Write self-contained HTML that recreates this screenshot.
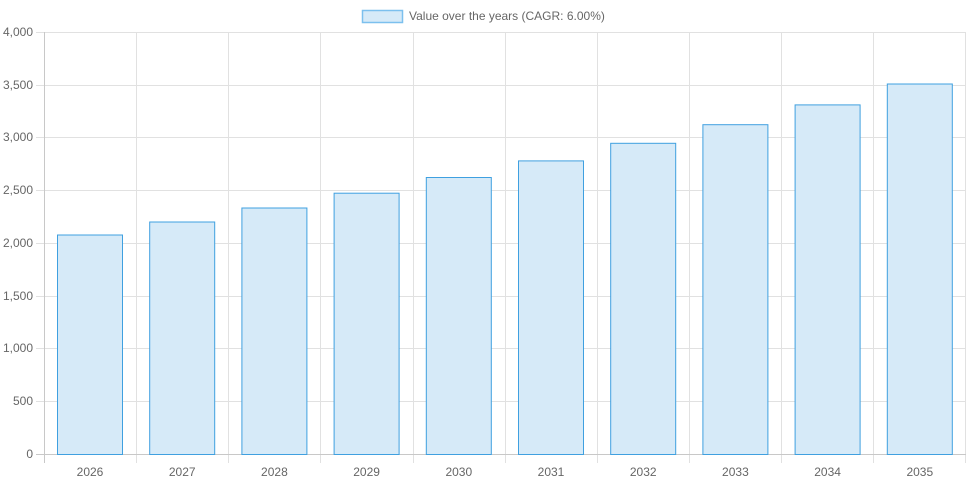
<!DOCTYPE html>
<html><head><meta charset="utf-8"><style>
html,body{margin:0;padding:0;background:#fff;}
svg{display:block;font-family:"Liberation Sans",Arial,sans-serif;}
</style></head><body>
<svg width="966" height="483" viewBox="0 0 966 483">
<g stroke="#e1e1e1" stroke-width="1" shape-rendering="crispEdges">
<line x1="36" y1="32.5" x2="966" y2="32.5"/>
<line x1="36" y1="85.5" x2="966" y2="85.5"/>
<line x1="36" y1="137.5" x2="966" y2="137.5"/>
<line x1="36" y1="190.5" x2="966" y2="190.5"/>
<line x1="36" y1="243.5" x2="966" y2="243.5"/>
<line x1="36" y1="296.5" x2="966" y2="296.5"/>
<line x1="36" y1="348.5" x2="966" y2="348.5"/>
<line x1="36" y1="401.5" x2="966" y2="401.5"/>
<line x1="136.5" y1="32" x2="136.5" y2="463"/>
<line x1="228.5" y1="32" x2="228.5" y2="463"/>
<line x1="320.5" y1="32" x2="320.5" y2="463"/>
<line x1="413.5" y1="32" x2="413.5" y2="463"/>
<line x1="505.5" y1="32" x2="505.5" y2="463"/>
<line x1="597.5" y1="32" x2="597.5" y2="463"/>
<line x1="689.5" y1="32" x2="689.5" y2="463"/>
<line x1="781.5" y1="32" x2="781.5" y2="463"/>
<line x1="873.5" y1="32" x2="873.5" y2="463"/>
<line x1="965.5" y1="32" x2="965.5" y2="463"/>
</g>
<g stroke="#c8c8c8" shape-rendering="crispEdges">
<line x1="44.5" y1="32" x2="44.5" y2="463"/>
<line x1="36" y1="454.5" x2="966" y2="454.5"/>
</g>
<g fill="#d6eaf8" stroke="#3fa0e0" stroke-width="1">
<rect x="57.5" y="235" width="65" height="219.5"/>
<rect x="149.7" y="222" width="65" height="232.5"/>
<rect x="241.9" y="208" width="65" height="246.5"/>
<rect x="334.1" y="193.2" width="65" height="261.3"/>
<rect x="426.3" y="177.5" width="65" height="277"/>
<rect x="518.5" y="160.9" width="65" height="293.6"/>
<rect x="610.7" y="143.3" width="65" height="311.2"/>
<rect x="702.9" y="124.7" width="65" height="329.8"/>
<rect x="795.1" y="104.9" width="65" height="349.6"/>
<rect x="887.3" y="84" width="65" height="370.5"/>
</g>
<g fill="#666" font-size="12" text-anchor="end">
<text x="33" y="36">4,000</text>
<text x="33" y="89">3,500</text>
<text x="33" y="141">3,000</text>
<text x="33" y="194">2,500</text>
<text x="33" y="247">2,000</text>
<text x="33" y="300">1,500</text>
<text x="33" y="352">1,000</text>
<text x="33" y="405">500</text>
<text x="33" y="458">0</text>
</g>
<g fill="#666" font-size="12" text-anchor="middle">
<text x="90" y="476">2026</text>
<text x="182.2" y="476">2027</text>
<text x="274.4" y="476">2028</text>
<text x="366.6" y="476">2029</text>
<text x="458.8" y="476">2030</text>
<text x="551" y="476">2031</text>
<text x="643.2" y="476">2032</text>
<text x="735.4" y="476">2033</text>
<text x="827.6" y="476">2034</text>
<text x="919.8" y="476">2035</text>
</g>
<rect x="362.5" y="10.5" width="40" height="12" fill="#d6eaf8" stroke="#7cc0ee" stroke-width="1.5"/>
<text x="409" y="20" fill="#666" font-size="12">Value over the years (CAGR: 6.00%)</text>
</svg>
</body></html>
